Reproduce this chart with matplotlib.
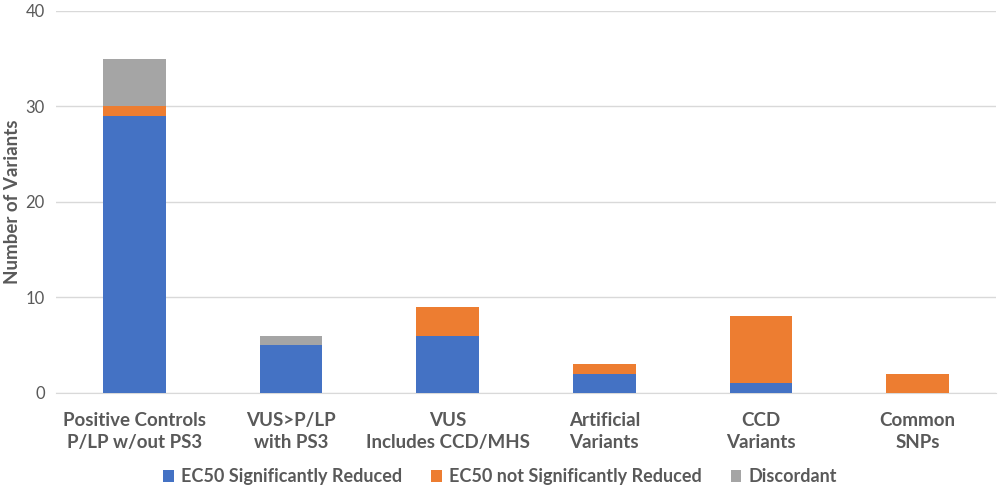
import numpy as np
import matplotlib.pyplot as plt

plt.rcParams['font.family'] = ['Lato', 'DejaVu Sans']

categories = ['Positive Controls\nP/LP w/out PS3', 'VUS>P/LP\nwith PS3',
              'VUS\nIncludes CCD/MHS', 'Artificial\nVariants',
              'CCD\nVariants', 'Common\nSNPs']
reduced = [29, 5, 6, 2, 1, 0]
not_reduced = [1, 0, 3, 1, 7, 2]
discordant = [5, 1, 0, 0, 0, 0]
series_names = ['EC50 Significantly Reduced', 'EC50 not Significantly Reduced', 'Discordant']
colors = ['#4472C4', '#ED7D31', '#A5A5A5']

text_color = '#595959'

fig = plt.figure(figsize=(10, 4.91), dpi=100)
ax = fig.add_axes([0.056, 0.2, 0.94, 0.778])

x = np.arange(len(categories))
bottom = np.zeros(len(categories))
for vals, name, c in zip([reduced, not_reduced, discordant], series_names, colors):
    ax.bar(x, vals, bottom=bottom, width=0.4, color=c, label=name, zorder=3)
    bottom += np.array(vals)

ax.set_xlim(-0.5, len(categories) - 0.5)
ax.set_ylim(0, 40)
ax.set_yticks([0, 10, 20, 30, 40])
ax.grid(axis='y', color='#D9D9D9', linewidth=1, zorder=0)
ax.set_xticks(x)
ax.set_xticklabels(categories, fontsize=13.5, fontweight='bold', color=text_color,
                   linespacing=1.35)
ax.tick_params(axis='x', length=0, pad=14)
ax.tick_params(axis='y', length=0, labelsize=12, labelcolor=text_color, pad=8)
for s in ['top', 'right', 'left']:
    ax.spines[s].set_visible(False)
ax.spines['bottom'].set_color('#D9D9D9')
ax.set_ylabel('Number of Variants', fontsize=13.5, fontweight='bold', color=text_color,
              labelpad=3)

handles, labels = ax.get_legend_handles_labels()
fig.legend(handles, labels, loc='center', bbox_to_anchor=(0.5, 0.029), ncol=3,
           frameon=False, prop={'size': 13, 'weight': 'bold'}, labelcolor=text_color,
           handlelength=0.6, handleheight=0.6, handletextpad=0.4, columnspacing=1.6)

fig.savefig('out.png', dpi=100)
